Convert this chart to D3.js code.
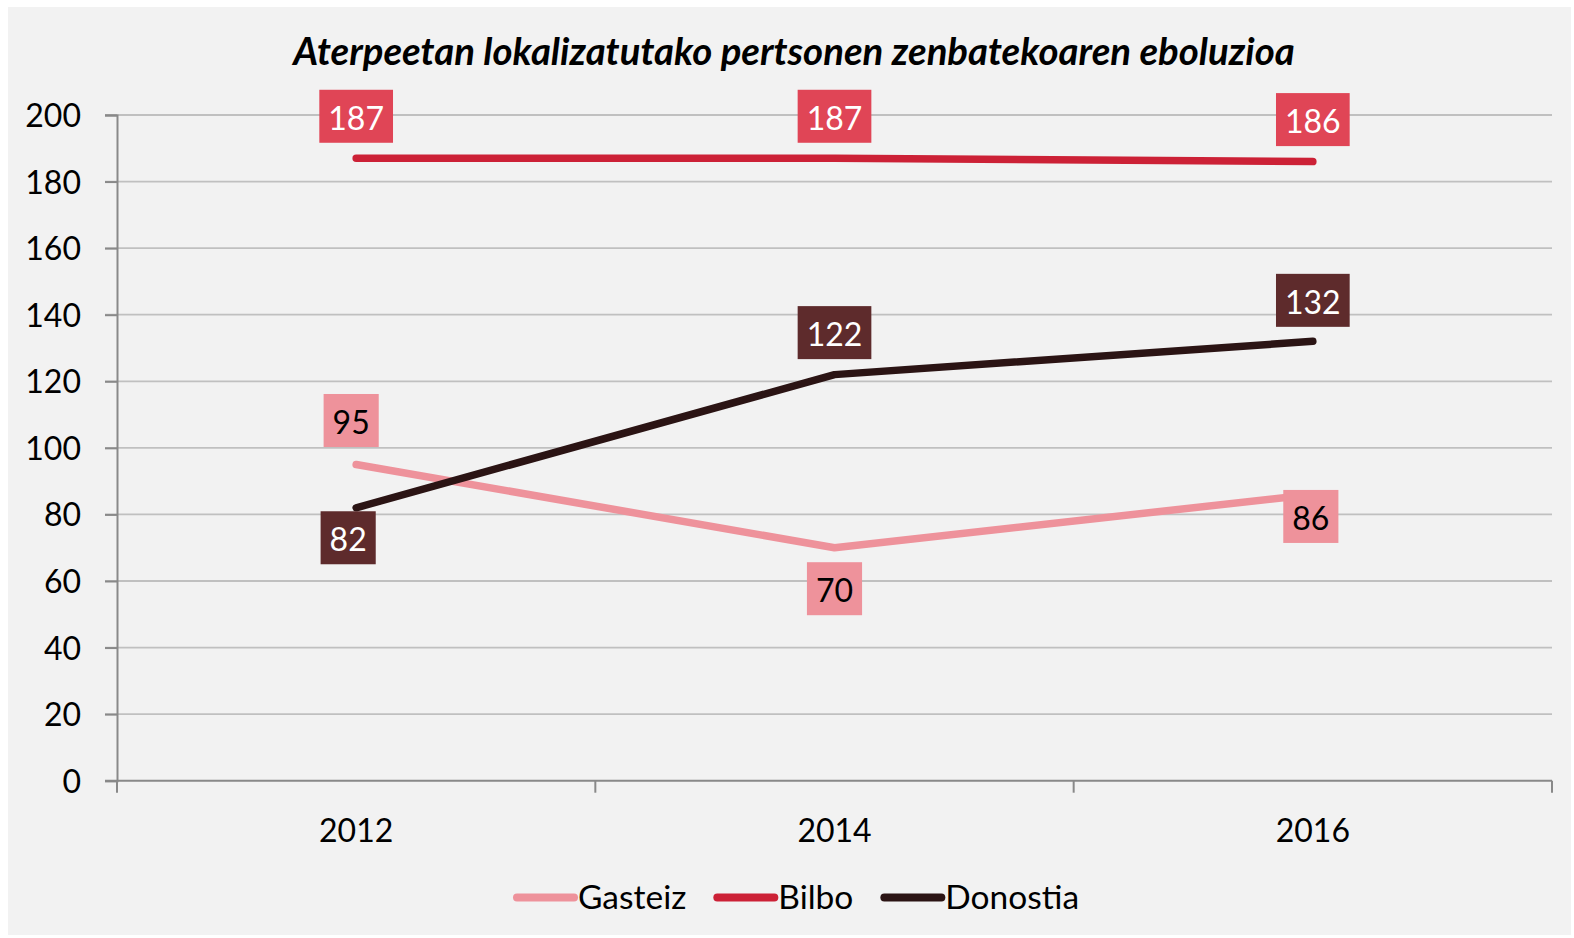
<!DOCTYPE html>
<html>
<head>
<meta charset="utf-8">
<script src="https://cdn.jsdelivr.net/npm/d3@7"></script>
<style>
  html, body { margin: 0; padding: 0; background: #ffffff; }
  svg { display: block; }
  text { font-family: Lato, "Open Sans", sans-serif; }
</style>
</head>
<body>
<script>
// ---- data ----
const categories = ["2012", "2014", "2016"];
const seriesNames = ["Gasteiz", "Bilbo", "Donostia"];
const gasteiz = [95, 70, 86];
const bilbo = [187, 187, 186];
const donostia = [82, 122, 132];
const yTicks = [0, 20, 40, 60, 80, 100, 120, 140, 160, 180, 200];
const title = "Aterpeetan lokalizatutako pertsonen zenbatekoaren eboluzioa";

// ---- style / layout ----
const W = 1574, H = 938;
const lineColors = { Gasteiz: "#ee929b", Bilbo: "#cc2136", Donostia: "#2b1414" };
const boxColors = { Gasteiz: "#ee929b", Bilbo: "#e04556", Donostia: "#5e2b2c" };
const boxText = { Gasteiz: "#000000", Bilbo: "#ffffff", Donostia: "#ffffff" };
// data label offsets from its point (centre)
const labelDy = {
  Gasteiz: [-44, 41, 22],
  Bilbo: [-42, -42, -42],
  Donostia: [30, -42, -41]
};
const labelDx = {
  Gasteiz: [-5, 0, -2],
  Bilbo: [0, 0, 0],
  Donostia: [-8, 0, 0]
};
const series = [
  { name: "Gasteiz", values: gasteiz },
  { name: "Bilbo", values: bilbo },
  { name: "Donostia", values: donostia }
];

const plot = { left: 117, right: 1552, top: 115, bottom: 780.7 };
const FS = 32;

const svg = d3.select("body").append("svg").attr("width", W).attr("height", H);
svg.append("rect").attr("x", 8).attr("y", 7).attr("width", 1563).attr("height", 928).attr("fill", "#f2f2f2");

const x = d3.scaleBand().domain(categories).range([plot.left, plot.right]).padding(0);
const y = d3.scaleLinear().domain([0, 200]).range([plot.bottom, plot.top]);
const xc = d => x(d) + x.bandwidth() / 2;

// gridlines
svg.append("g").selectAll("line").data(yTicks.filter(t => t > 0)).join("line")
  .attr("x1", plot.left - 12).attr("x2", plot.right)
  .attr("y1", d => y(d)).attr("y2", d => y(d))
  .attr("stroke", "#c0c0c0").attr("stroke-width", 1.8);

// y axis
const yAxis = svg.append("g").attr("transform", `translate(${plot.left},0)`)
  .call(d3.axisLeft(y).tickValues(yTicks).tickSize(12).tickPadding(24).tickFormat(d3.format("d")));
yAxis.select(".domain").attr("stroke", "#898989").attr("stroke-width", 2);
yAxis.selectAll(".tick line").attr("stroke", "#898989").attr("stroke-width", 2);
yAxis.selectAll(".tick text").attr("font-size", FS).attr("fill", "#000").attr("dy", "0.36em");

// x axis
const xAxisG = svg.append("g").attr("transform", `translate(0,${plot.bottom})`);
xAxisG.append("line").attr("x1", plot.left - 12).attr("x2", plot.right)
  .attr("stroke", "#898989").attr("stroke-width", 2);
const bounds = categories.map(c => x(c)).concat([plot.right]);
xAxisG.selectAll("line.tk").data(bounds).join("line").attr("class", "tk")
  .attr("x1", d => d).attr("x2", d => d).attr("y1", 0).attr("y2", 12)
  .attr("stroke", "#898989").attr("stroke-width", 2);
xAxisG.selectAll("text").data(categories).join("text")
  .attr("x", d => xc(d)).attr("y", 61).attr("text-anchor", "middle")
  .attr("font-size", FS).attr("fill", "#000").text(d => d);

// lines
const line = d3.line().x((d, i) => xc(categories[i])).y(d => y(d));
svg.append("g").selectAll("path").data(series).join("path")
  .attr("d", s => line(s.values))
  .attr("fill", "none").attr("stroke", s => lineColors[s.name])
  .attr("stroke-width", 7.5).attr("stroke-linecap", "round").attr("stroke-linejoin", "round");

// labels
const lg = svg.append("g");
series.forEach(s => {
  s.values.forEach((v, i) => {
    const cx = xc(categories[i]) + labelDx[s.name][i];
    const cy = y(v) + labelDy[s.name][i];
    const g = lg.append("g");
    const t = g.append("text").attr("x", cx).attr("y", cy).attr("dy", "0.42em")
      .attr("text-anchor", "middle").attr("font-size", FS)
      .attr("fill", boxText[s.name]).text(v);
    const w = t.node().getComputedTextLength();
    g.insert("rect", "text").attr("x", cx - w / 2 - 9).attr("y", cy - 26.5)
      .attr("width", w + 18).attr("height", 53).attr("fill", boxColors[s.name]);
  });
});

// title
const tt = svg.append("text").attr("x", 794).attr("y", 65).attr("text-anchor", "middle")
  .attr("font-size", 34).attr("font-weight", "bold").attr("font-style", "italic")
  .attr("fill", "#000").text(title);
const tw = tt.node().getComputedTextLength();
tt.attr("font-size", 34 * 1002 / tw);

// legend
const leg = svg.append("g");
let lx = 517;
seriesNames.forEach(n => {
  leg.append("line").attr("x1", lx).attr("x2", lx + 57).attr("y1", 897.5).attr("y2", 897.5)
    .attr("stroke", lineColors[n]).attr("stroke-width", 8).attr("stroke-linecap", "round");
  const t = leg.append("text").attr("x", lx + 61).attr("y", 909).attr("font-size", 33.5)
    .attr("fill", "#000").text(n);
  lx = lx + 61 + t.node().getComputedTextLength() + 31;
});
</script>
</body>
</html>
